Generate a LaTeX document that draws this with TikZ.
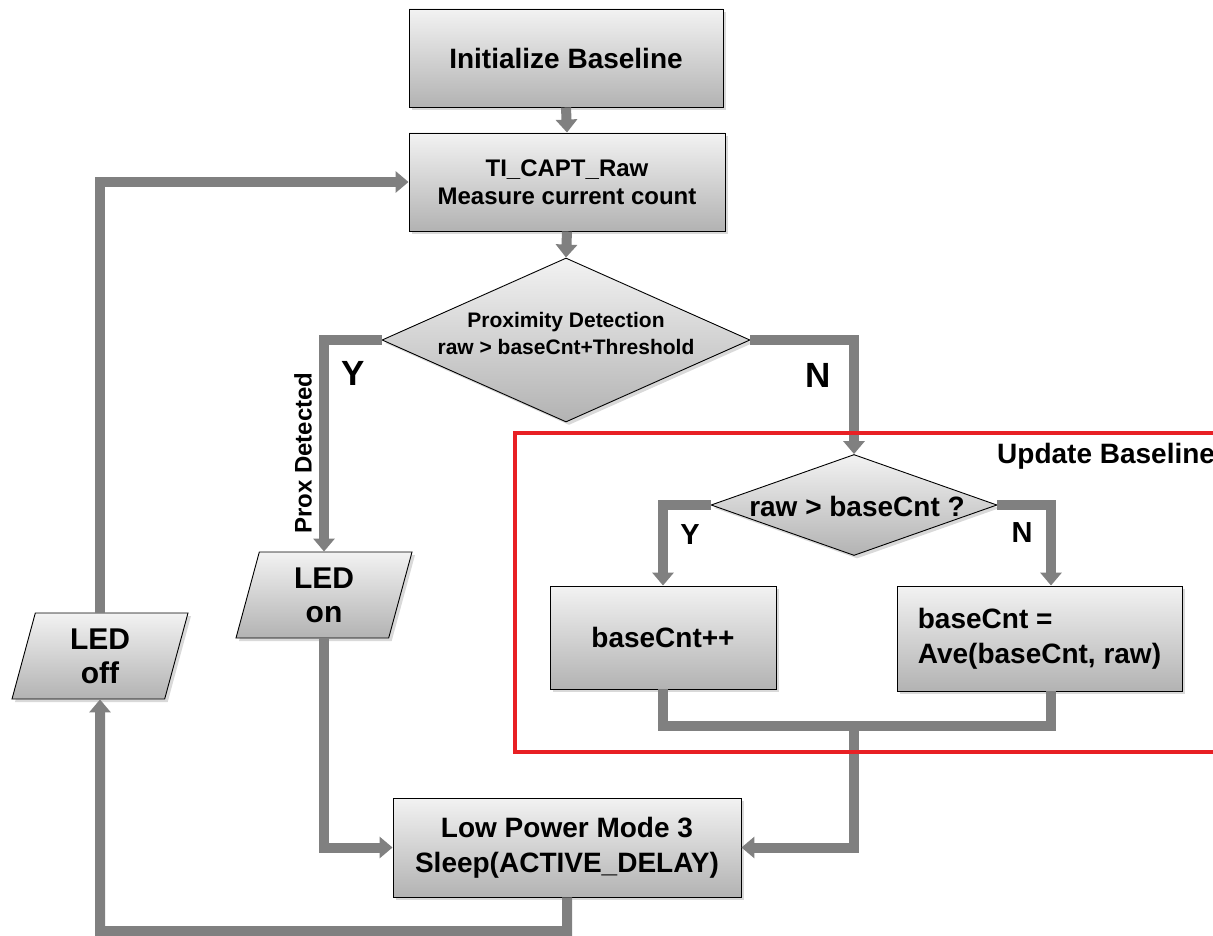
\documentclass[tikz,border=0pt]{standalone}
\usepackage{fontspec}
\setmainfont{Liberation Sans}
\usetikzlibrary{shapes.geometric,arrows.meta,shadows,calc}
\definecolor{linegray}{RGB}{128,128,128}
\definecolor{framered}{RGB}{232,32,36}
\begin{document}
\begin{tikzpicture}[x=1pt,y=-1pt,
  fc/.style={top color=white!95!black, bottom color=white!70!black, draw=black, line width=0.9pt,
    drop shadow={shadow xshift=3pt,shadow yshift=-3pt,opacity=0.3}},
  procbox/.style={fc, rectangle, inner sep=0pt, align=center, font=\bfseries\fontsize{28}{35}\selectfont},
  decbox/.style={fc, diamond, inner sep=0pt},
  iobox/.style={fc, trapezium, trapezium left angle=67, trapezium right angle=113,
    trapezium stretches body, inner sep=0pt, minimum width=176pt, minimum height=86pt,
    align=center, font=\bfseries\fontsize{30}{34}\selectfont},
  conn/.style={draw=linegray, line width=10pt, line join=miter},
  arr/.style={conn, -{Triangle[width=21pt,length=13pt]}},
  yn/.style={font=\bfseries\fontsize{35}{35}\selectfont},
  ynsmall/.style={font=\bfseries\fontsize{29}{29}\selectfont},
  dtext/.style={align=center, inner sep=0pt}
]
\useasboundingbox (0,0) rectangle (1213,936);

% nodes
\node[procbox, minimum width=314pt, minimum height=98pt] (init) at (566,58) {Initialize Baseline};
\node[procbox, minimum width=316pt, minimum height=98pt, font=\bfseries\fontsize{24}{28}\selectfont] (ti) at (567,182) {TI\_CAPT\_Raw\\Measure current count};
\node[decbox, minimum width=368pt, minimum height=164pt] (d1) at (566,340) {};
\node[dtext, font=\bfseries\fontsize{21}{27}\selectfont] (d1txt) at (566,333) {Proximity Detection\\raw > baseCnt+Threshold};
\node[iobox] (ledon) at (324,595) {LED\\on};
\node[iobox] (ledoff) at (100,656) {LED\\off};
\node[decbox, minimum width=286pt, minimum height=101pt] (d2) at (854,505) {};
\node[dtext, font=\bfseries\fontsize{28}{28}\selectfont] (d2txt) at (857,506) {raw > baseCnt ?};
\node[procbox, minimum width=226pt, minimum height=103pt] (bc) at (663,637.5) {baseCnt++};
\node[procbox, minimum width=285pt, minimum height=105pt, align=left] (ave) at (1039.5,638.5) {baseCnt =\\Ave(baseCnt, raw)};
\node[procbox, minimum width=348pt, minimum height=99pt] (lp) at (567,847.5) {Low Power Mode 3\\Sleep(ACTIVE\_DELAY)};

\coordinate (m) at (854,726);
\coordinate (nx) at (1051,0);
\coordinate (bl) at (100,931);

% connectors
\draw[arr] (init.south) -- (ti.north);
\draw[arr] (ti.south) -- (d1.north);
\draw[arr] (d1.west) -| (ledon.north);
\draw[arr] (d1.east) -| (d2.north);
\draw[arr] (d2.west) -| (bc.north);
\draw[arr] (d2.east) -| (nx |- ave.north);
\draw[conn] (bc.south) |- (nx |- m) -- (nx |- ave.south);
\draw[arr] (m) |- (lp.east);
\draw[arr] (ledon.south) |- (lp.west);
\draw[arr] (lp.south) |- (bl) -- (ledoff.south);
\draw[arr] (ledoff.north) |- (ti.west);

% labels
\node[yn] (ly1) at (353,373) {Y};
\node[yn] (ln1) at (818,375) {N};
\node[ynsmall] (ly2) at (690,535) {Y};
\node[ynsmall] (ln2) at (1022,533) {N};
\node[rotate=90, font=\bfseries\fontsize{24}{24}\selectfont] (prox) at (303,453) {Prox Detected};

% update baseline frame
\draw[framered, line width=3.5pt] (1225,433) -- (515,433) -- (515,752) -- (1225,752);
\node[anchor=west, inner sep=0pt, font=\bfseries\fontsize{28}{28}\selectfont] (ub) at (997,456) {Update Baseline};
\end{tikzpicture}
\end{document}
